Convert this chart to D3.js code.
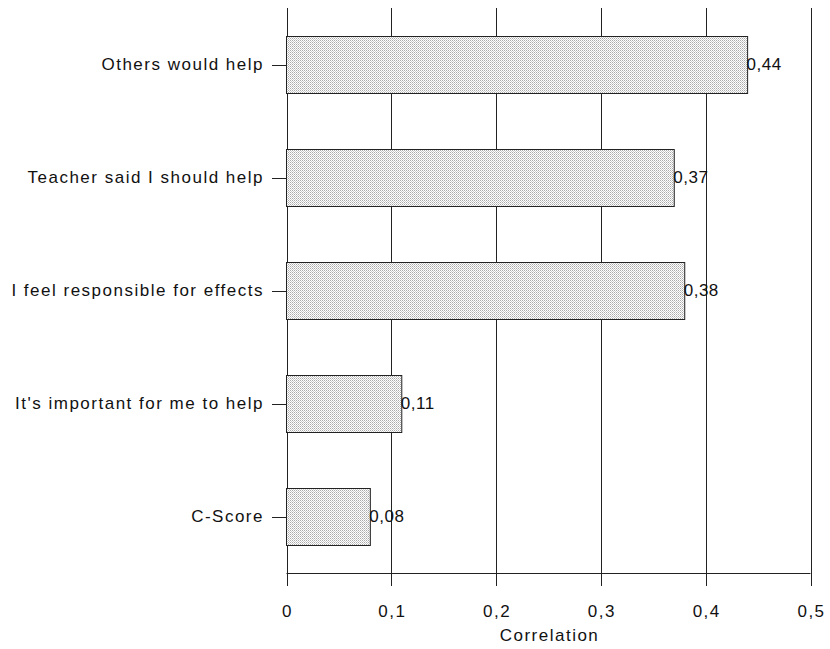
<!DOCTYPE html>
<html><head><meta charset="utf-8">
<script src="https://cdn.jsdelivr.net/npm/d3@7"></script>
<style>body{margin:0;background:#fff}svg text{font-family:"Liberation Sans",Arial,sans-serif;fill:#111}</style>
</head><body><svg id="c" width="830" height="649"></svg>
<script>
const categories = ["Others would help","Teacher said I should help","I feel responsible for effects","It's important for me to help","C-Score"];
const values = [0.44,0.37,0.38,0.11,0.08];
const valueLabels = ["0,44","0,37","0,38","0,11","0,08"];
const tickValues = [0,0.1,0.2,0.3,0.4,0.5];
const tickLabels = ["0","0,1","0,2","0,3","0,4","0,5"];
const axisTitle = "Correlation";

const svg = d3.select("#c");
const x = d3.scaleLinear().domain([0,0.5]).range([286.5,810.5]);
const y = d3.scaleBand().domain(categories).range([8,573]).paddingInner(0.5).paddingOuter(0.25);

const defs = svg.append("defs");
const pat = defs.append("pattern").attr("id","dots").attr("width",2).attr("height",2).attr("patternUnits","userSpaceOnUse");
pat.append("rect").attr("width",2).attr("height",2).attr("fill","#fff");
pat.append("rect").attr("width",1).attr("height",1).attr("fill","#aaa");
pat.append("rect").attr("x",1).attr("y",1).attr("width",1).attr("height",1).attr("fill","#ccc");

// gridlines
svg.append("g").selectAll("line").data(tickValues).join("line")
  .attr("x1",d=>Math.round(x(d))+0.5).attr("x2",d=>Math.round(x(d))+0.5)
  .attr("y1",8).attr("y2",586).attr("stroke","#222").attr("stroke-width",1);

// bottom axis line
svg.append("line").attr("x1",x(0)).attr("x2",x(0.5)).attr("y1",573.5).attr("y2",573.5).attr("stroke","#222");

// bars
svg.append("g").selectAll("rect").data(categories).join("rect")
  .attr("x",x(0)).attr("y",d=>Math.round(y(d))+0.5)
  .attr("width",(d,i)=>x(values[i])-x(0)).attr("height",Math.round(y.bandwidth()))
  .attr("fill","url(#dots)").attr("stroke","#222").attr("stroke-width",1);

// category ticks and labels
const gy = svg.append("g");
gy.selectAll("line").data(categories).join("line")
  .attr("x1",272).attr("x2",286).attr("y1",d=>Math.round(y(d)+y.bandwidth()/2)+0.5).attr("y2",d=>Math.round(y(d)+y.bandwidth()/2)+0.5)
  .attr("stroke","#222");
gy.selectAll("text").data(categories).join("text")
  .attr("x",264).attr("y",d=>y(d)+y.bandwidth()/2).attr("dy","0.35em")
  .attr("text-anchor","end").attr("font-size",17).attr("letter-spacing","1.5").text(d=>d);

// value labels
svg.append("g").selectAll("text").data(categories).join("text")
  .attr("x",(d,i)=>x(values[i])-1).attr("y",d=>y(d)+y.bandwidth()/2).attr("dy","0.35em")
  .attr("font-size",17).attr("letter-spacing","0.5").text((d,i)=>valueLabels[i]);

// x tick labels
svg.append("g").selectAll("text").data(tickValues).join("text")
  .attr("x",d=>x(d)+1).attr("y",611).attr("dy","0.35em").attr("text-anchor","middle")
  .attr("font-size",17).attr("letter-spacing","1.5").text((d,i)=>tickLabels[i]);

svg.append("text").attr("x",x(0.25)+1).attr("y",635).attr("dy","0.35em").attr("text-anchor","middle")
  .attr("font-size",17).attr("letter-spacing","1.5").text(axisTitle);
</script></body></html>
